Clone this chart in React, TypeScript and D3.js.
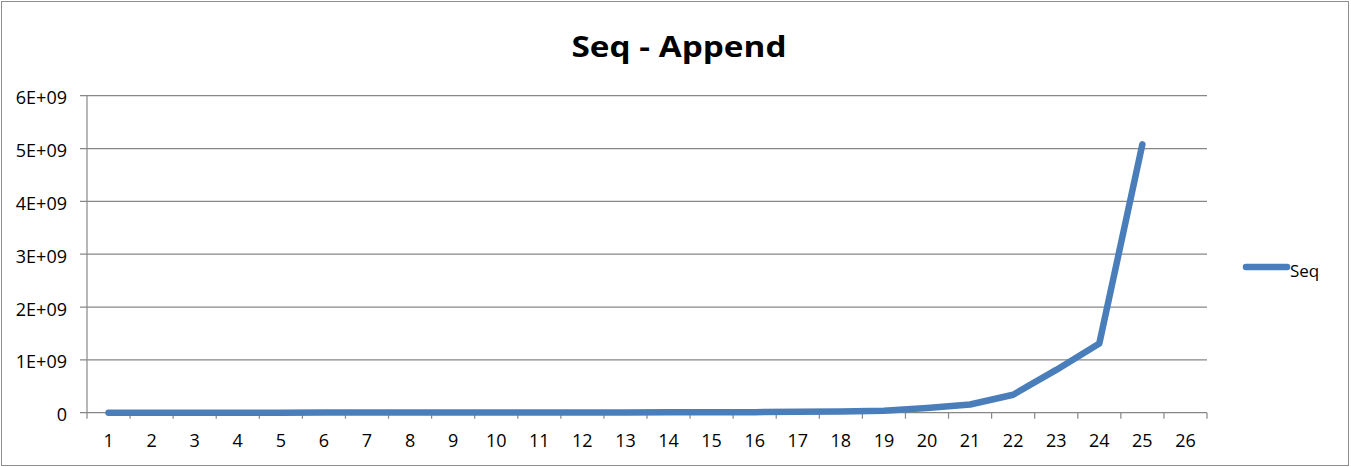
import React from "react";
import * as d3 from "d3";

const categories: string[] = Array.from({ length: 26 }, (_, i) => String(i + 1));
const seqValues: (number | null)[] = [
  1e6, 1e6, 1e6, 1e6, 1e6, 2e6, 2e6, 2e6, 3e6, 3e6, 4e6, 5e6, 6e6, 7e6, 8e6,
  1.0e7, 1.8e7, 2.4e7, 3.5e7, 9.0e7, 1.55e8, 3.4e8, 8.1e8, 1.31e9, 5.08e9, null,
];
const yTicks: number[] = [0, 1e9, 2e9, 3e9, 4e9, 5e9, 6e9];
const yTickLabels: string[] = ["0", "1E+09", "2E+09", "3E+09", "4E+09", "5E+09", "6E+09"];
const seriesName = "Seq";
const title = "Seq - Append";

const W = 1351;
const H = 467;
const plot = { left: 87, right: 1207, top: 95.7, bottom: 412.7 };
const FONT = "'Open Sans', 'Noto Sans', 'DejaVu Sans', sans-serif";
const LINE_COLOR = "#4a7ebb";
const GRID = "#878787";

export default function App() {
  const x = d3.scaleBand<string>().domain(categories).range([plot.left, plot.right]).padding(0);
  const y = d3.scaleLinear().domain([0, 6e9]).range([plot.bottom, plot.top]);
  const pts = categories
    .map((c, i) => ({ c, v: seqValues[i] }))
    .filter((d) => d.v !== null) as { c: string; v: number }[];
  const line = d3
    .line<{ c: string; v: number }>()
    .x((d) => (x(d.c) ?? 0) + x.bandwidth() / 2)
    .y((d) => y(d.v));
  const bw = x.bandwidth();

  return (
    <div style={{ position: "absolute", left: 0, top: 0 }}>
      <svg width={W} height={H} style={{ display: "block" }}>
        <rect x={0} y={0} width={W} height={H} fill="#fff" />
        <rect x={1.5} y={1.5} width={W - 4} height={H - 3} fill="none" stroke="#8e8e8e" strokeWidth={1} />
        <text
          x={571.5}
          y={56.7}
          textLength={215}
          lengthAdjust="spacingAndGlyphs"
          fontFamily={FONT}
          fontWeight="bold"
          fontSize={28.5}
          fill="#000"
        >
          {title}
        </text>
        {yTicks.map((t, i) => (
          <g key={t}>
            <line x1={plot.left - 7} x2={plot.right} y1={y(t)} y2={y(t)} stroke={GRID} strokeWidth={1.2} />
            <text x={67} y={y(t) + 8.6} textAnchor="end" fontFamily={FONT} fontSize={18} fill="#000">
              {yTickLabels[i]}
            </text>
          </g>
        ))}
        <line x1={plot.left} x2={plot.left} y1={plot.top} y2={plot.bottom + 6} stroke={GRID} strokeWidth={1.2} />
        {categories.map((c) => (
          <g key={c}>
            <line
              x1={(x(c) ?? 0) + bw}
              x2={(x(c) ?? 0) + bw}
              y1={plot.bottom}
              y2={plot.bottom + 6}
              stroke={GRID}
              strokeWidth={1.2}
            />
            <text x={(x(c) ?? 0) + bw / 2} y={447} textAnchor="middle" fontFamily={FONT} fontSize={18} fill="#000">
              {c}
            </text>
          </g>
        ))}
        <path d={line(pts) ?? ""} fill="none" stroke={LINE_COLOR} strokeWidth={6.5} strokeLinejoin="round" strokeLinecap="round" />
        <line x1={1246} x2={1287} y1={267} y2={267} stroke={LINE_COLOR} strokeWidth={6.5} strokeLinecap="round" />
        <text x={1290} y={276.5} fontFamily={FONT} fontSize={17} fill="#000">
          {seriesName}
        </text>
      </svg>
    </div>
  );
}
